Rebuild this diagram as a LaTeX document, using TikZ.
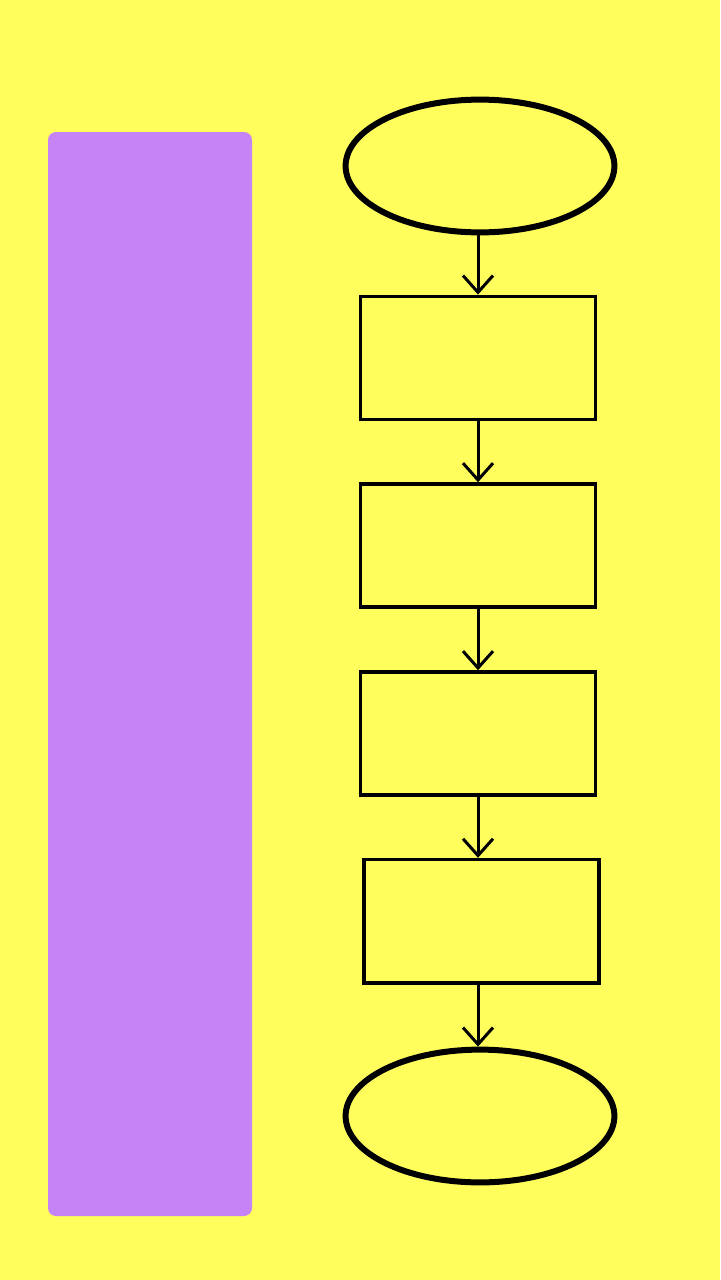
\documentclass[tikz,border=0pt]{standalone}
\usepackage{tikz}
\usetikzlibrary{shapes.geometric,arrows.meta}

\definecolor{bgyellow}{HTML}{FFFE5C}
\definecolor{lanepurple}{HTML}{C583F5}

\begin{document}
\begin{tikzpicture}[
	terminal/.style={shape=ellipse,draw=black,line width=0.15cm,inner sep=0pt,minimum width=6.72cm,minimum height=3.32cm},
	process/.style={shape=rectangle,draw=black,line width=0.09cm,inner sep=0pt,minimum width=5.88cm,minimum height=3.08cm},
	flow/.style={-{Straight Barb[length=0.42cm,width=0.75cm]},line width=0.075cm,draw=black}
	]
	\fill[bgyellow] (0,0) rectangle (18,-32);
	\useasboundingbox (0,0) rectangle (18,-32);

	\node[shape=rectangle,fill=lanepurple,rounded corners=0.2cm,inner sep=0pt,minimum width=5.1cm,minimum height=27.1cm] (lane) at (3.75, -16.85) {};

	\node[terminal] (start) at (12.00, -4.15)  {};
	\node[process]  (p1)    at (11.95, -8.95)  {};
	\node[process]  (p2)    at (11.95, -13.64) {};
	\node[process]  (p3)    at (11.95, -18.34) {};
	\node[process]  (p4)    at (12.04, -23.03) {};
	\node[terminal] (stop)  at (12.00, -27.90) {};

	\draw[flow] (start.south -| p1) -- (p1.north);
	\draw[flow] (p1) -- (p2);
	\draw[flow] (p2) -- (p3);
	\draw[flow] (p3) -- (p4.north -| p3);
	\draw[flow] (p4.south -| p3) -- (stop.north -| p3);

\end{tikzpicture}
\end{document}
